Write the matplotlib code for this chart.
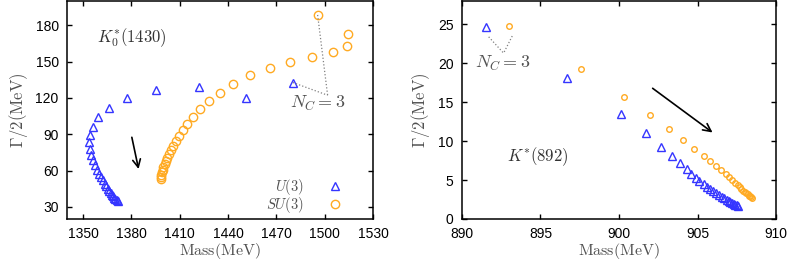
import matplotlib.pyplot as plt
import numpy as np

plt.rcParams["font.family"] = ["Liberation Sans", "DejaVu Sans"]
plt.rcParams["mathtext.fontset"] = "cm"

# ── Data: K0*(1430) pole trajectory (first point is N_C = 3) ─────────────────
k0_u3_mass = [1480.2, 1451.0, 1421.9, 1395.1, 1377.4, 1365.8, 1359.5, 1355.9,
              1354.3, 1353.8, 1354.1, 1355.0, 1355.9, 1357.2, 1358.5, 1359.8,
              1361.0, 1362.2, 1363.3, 1364.3, 1365.3, 1366.2, 1367.1, 1367.9,
              1368.7, 1369.4, 1370.1, 1370.8, 1371.5]
k0_u3_width = [132.7, 120.3, 128.8, 126.3, 120.0, 111.8, 104.0, 96.2,
               89.5, 83.3, 77.6, 72.8, 68.4, 64.4, 60.8, 57.5,
               54.5, 51.8, 49.3, 47.1, 45.1, 43.3, 41.6, 40.1,
               38.8, 37.6, 36.6, 35.7, 35.0]

k0_su3_mass = [1495.6, 1514.6, 1514.0, 1504.9, 1492.3, 1478.7, 1465.8, 1453.4,
               1443.1, 1434.9, 1428.1, 1422.6, 1418.4, 1414.6, 1411.8, 1409.6,
               1407.7, 1406.0, 1404.6, 1403.3, 1402.3, 1401.3, 1400.6, 1399.8,
               1399.4, 1399.0, 1398.6, 1398.4, 1398.4]
k0_su3_width = [188.5, 173.1, 163.2, 157.7, 153.8, 150.0, 144.7, 138.5,
                131.5, 124.4, 117.2, 110.6, 104.6, 98.8, 93.3, 88.6,
                84.3, 80.5, 76.8, 73.7, 70.7, 68.0, 65.5, 63.0,
                60.8, 58.6, 56.7, 54.8, 53.2]

# ── Data: K*(892) pole trajectory (first point is N_C = 3) ───────────────────
ks_u3_mass = [891.5, 896.7, 900.1, 901.7, 902.7, 903.4, 903.9, 904.3, 904.6,
              904.9, 905.1, 905.4, 905.6, 905.8, 906.0, 906.2, 906.4, 906.55,
              906.7, 906.85, 907.0, 907.1, 907.2, 907.3, 907.4, 907.5, 907.55]
ks_u3_width = [24.7, 18.1, 13.5, 11.0, 9.3, 8.1, 7.2, 6.4, 5.8,
               5.3, 4.9, 4.5, 4.15, 3.85, 3.55, 3.3, 3.05, 2.85,
               2.65, 2.5, 2.35, 2.2, 2.05, 1.95, 1.85, 1.75, 1.7]

ks_su3_mass = [893.0, 897.6, 900.3, 902.0, 903.2, 904.1, 904.8, 905.4, 905.8,
               906.2, 906.5, 906.8, 907.0, 907.2, 907.4, 907.55, 907.7, 907.8,
               907.9, 908.0, 908.1, 908.2, 908.3, 908.35, 908.4, 908.5]
ks_su3_width = [24.8, 19.3, 15.7, 13.3, 11.5, 10.1, 9.0, 8.1, 7.4,
                6.8, 6.3, 5.8, 5.4, 5.0, 4.65, 4.35, 4.1, 3.85,
                3.65, 3.45, 3.3, 3.15, 3.0, 2.9, 2.8, 2.7]

BLUE = "#3535ff"
ORANGE = "#ffaa22"
GREY = "#505050"


def style_axes(ax, xlim, ylim, xticks, yticks):
    ax.set_xlim(*xlim)
    ax.set_ylim(*ylim)
    ax.set_xticks(xticks)
    ax.set_yticks(yticks)
    ax.tick_params(direction="in", top=True, right=True, length=3.5, width=1,
                   labelsize=10, pad=6)
    for s in ax.spines.values():
        s.set_linewidth(1.1)
    ax.set_xlabel(r"$\mathrm{Mass(MeV)}$", fontsize=11.5, color=GREY, labelpad=0)
    ax.set_ylabel(r"$\Gamma/2(\mathrm{MeV})$", fontsize=12, color=GREY, labelpad=4)


fig = plt.figure(figsize=(7.9, 2.65), dpi=100)
ax1 = fig.add_axes([0.0848, 0.1736, 0.3874, 0.8226])
ax2 = fig.add_axes([0.5848, 0.1736, 0.3975, 0.8226])

# ── Left: K0*(1430) ──────────────────────────────────────────────────────────
ax1.plot(k0_u3_mass, k0_u3_width, ls="none", marker="^", ms=6, mfc="none",
         mec=BLUE, mew=1.0, label=r"$U(3)$")
ax1.plot(k0_su3_mass, k0_su3_width, ls="none", marker="o", ms=6, mfc="none",
         mec=ORANGE, mew=1.0, label=r"$SU(3)$")
nc_lab1 = (1501.8, 122.2)
for xs, ys in [(k0_u3_mass, k0_u3_width), (k0_su3_mass, k0_su3_width)]:
    ax1.plot([xs[0], nc_lab1[0]], [ys[0], nc_lab1[1]], ls=":", color="grey", lw=0.9)
ax1.text(1495.5, 115.5, r"$N_C=3$", fontsize=13, color=GREY, ha="center", va="center")
ax1.text(1380.3, 169.5, r"$K_0^{*}(1430)$", fontsize=12, color="#333333", ha="center", va="center")
ax1.annotate("", xy=(1384.8, 59.0), xytext=(1379.9, 89.7),
             arrowprops=dict(arrowstyle="->", color="black", lw=1.2, mutation_scale=14))
style_axes(ax1, (1340, 1530), (20, 200), np.arange(1350, 1531, 30), np.arange(30, 181, 30))
leg = ax1.legend(loc="lower right", markerfirst=False, frameon=False, fontsize=10.5,
                 handletextpad=1.6, handlelength=1.0, labelspacing=-0.1,
                 borderaxespad=0.0, bbox_to_anchor=(0.917, -0.01))
for t in leg.get_texts():
    t.set_color(GREY)

# ── Right: K*(892) ───────────────────────────────────────────────────────────
ax2.plot(ks_u3_mass, ks_u3_width, ls="none", marker="^", ms=6, mfc="none",
         mec=BLUE, mew=1.0)
ax2.plot(ks_su3_mass, ks_su3_width, ls="none", marker="o", ms=4, mfc="none",
         mec=ORANGE, mew=1.0)
nc_lab2 = (892.65, 21.3)
for xs, ys in [(ks_u3_mass, ks_u3_width), (ks_su3_mass, ks_su3_width)]:
    ax2.plot([xs[0] + 0.2, nc_lab2[0]], [ys[0] - 1.3, nc_lab2[1]], ls=":", color="grey", lw=0.9)
ax2.text(892.6, 20.0, r"$N_C=3$", fontsize=13, color=GREY, ha="center", va="center")
ax2.text(894.8, 8.0, r"$K^{*}(892)$", fontsize=12, color="#333333", ha="center", va="center")
ax2.annotate("", xy=(906.1, 10.9), xytext=(902.0, 17.0),
             arrowprops=dict(arrowstyle="->", color="black", lw=1.2, mutation_scale=14))
style_axes(ax2, (890, 910), (0, 28), np.arange(890, 911, 5), np.arange(0, 26, 5))

fig.savefig("out.png", dpi=100)
